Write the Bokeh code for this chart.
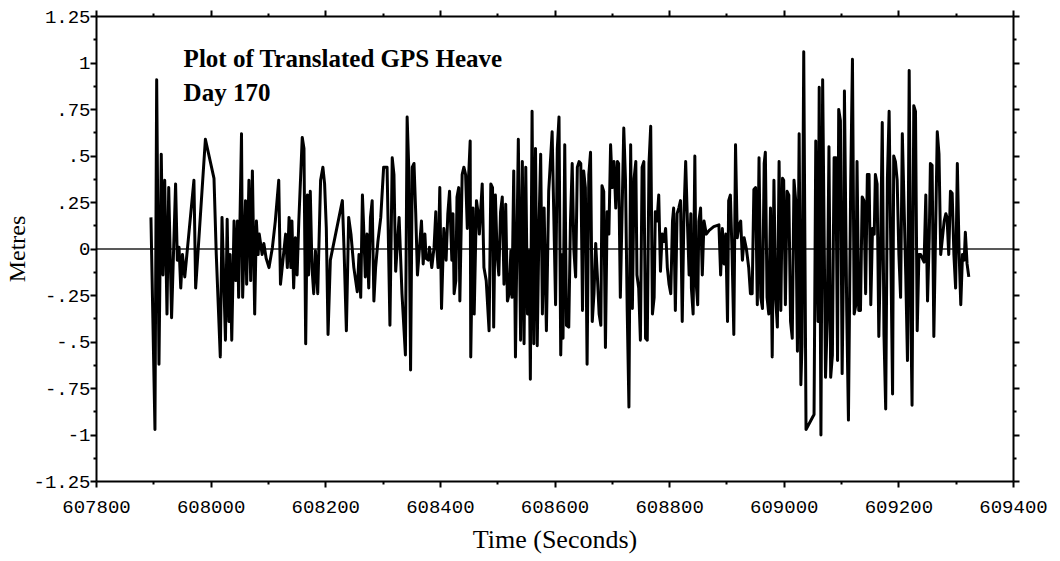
from bokeh.plotting import figure
from bokeh.models import (Range1d, LinearAxis, FixedTicker, Label, BasicTickFormatter,
                          CustomLabelingPolicy)
from bokeh.embed import file_html
from bokeh.resources import INLINE

# ---------------- data ----------------
time_s = [
    607895, 607902, 607905, 607909, 607913, 607916, 607919, 607923, 607926, 607931,
    607938, 607941, 607944, 607947, 607950, 607954, 607970, 607973, 607990, 608005,
    608009, 608016, 608019, 608025, 608028, 608031, 608033, 608036, 608040, 608043,
    608046, 608048, 608053, 608055, 608060, 608062, 608066, 608069, 608072, 608076,
    608079, 608082, 608084, 608089, 608092, 608096, 608101, 608107, 608112, 608118,
    608121, 608130, 608133, 608136, 608139, 608141, 608144, 608147, 608150, 608153,
    608159, 608162, 608165, 608168, 608170, 608173, 608176, 608179, 608182, 608186,
    608191, 608195, 608198, 608201, 608204, 608208, 608229, 608232, 608236, 608240,
    608244, 608249, 608255, 608258, 608261, 608264, 608266, 608269, 608272, 608275,
    608278, 608281, 608284, 608287, 608291, 608296, 608301, 608307, 608312, 608316,
    608319, 608322, 608328, 608333, 608339, 608342, 608345, 608348, 608351, 608354,
    608357, 608360, 608367, 608370, 608373, 608375, 608379, 608381, 608385, 608389,
    608392, 608393, 608396, 608399, 608402, 608406, 608410, 608413, 608416, 608420,
    608422, 608424, 608427, 608429, 608432, 608434, 608438, 608441, 608444, 608447,
    608449, 608452, 608453, 608457, 608459, 608463, 608466, 608468, 608473, 608476,
    608480, 608485, 608488, 608491, 608493, 608496, 608499, 608502, 608505, 608508,
    608511, 608514, 608517, 608520, 608523, 608525, 608528, 608531, 608536, 608540,
    608543, 608546, 608549, 608552, 608555, 608557, 608560, 608563, 608566, 608569,
    608572, 608575, 608578, 608581, 608585, 608589, 608595, 608601, 608604, 608607,
    608610, 608613, 608614, 608617, 608620, 608624, 608627, 608630, 608633, 608636,
    608639, 608642, 608645, 608648, 608650, 608653, 608656, 608659, 608662, 608665,
    608668, 608671, 608674, 608677, 608680, 608682, 608685, 608688, 608691, 608694,
    608697, 608700, 608703, 608706, 608709, 608711, 608714, 608717, 608720, 608723,
    608726, 608729, 608732, 608735, 608738, 608741, 608743, 608746, 608749, 608752,
    608755, 608758, 608761, 608764, 608767, 608770, 608773, 608775, 608778, 608781,
    608784, 608787, 608790, 608793, 608796, 608799, 608802, 608805, 608807, 608810,
    608813, 608816, 608819, 608822, 608825, 608828, 608831, 608834, 608837, 608838,
    608841, 608844, 608846, 608849, 608851, 608854, 608857, 608860, 608864, 608869,
    608877, 608886, 608889, 608892, 608895, 608898, 608901, 608903, 608906, 608909,
    608912, 608915, 608918, 608921, 608924, 608927, 608930, 608934, 608938, 608941,
    608944, 608947, 608950, 608953, 608956, 608959, 608962, 608965, 608967, 608970,
    608973, 608976, 608979, 608982, 608985, 608988, 608991, 608994, 608997, 608999,
    609002, 609005, 609008, 609011, 609014, 609017, 609020, 609023, 609026, 609029,
    609031, 609034, 609038, 609052, 609055, 609057, 609059, 609061, 609064, 609067,
    609072, 609075, 609078, 609081, 609084, 609087, 609090, 609093, 609095, 609098,
    609101, 609104, 609105, 609109, 609112, 609116, 609119, 609122, 609125, 609127,
    609130, 609133, 609136, 609139, 609142, 609145, 609148, 609151, 609154, 609157,
    609159, 609162, 609165, 609168, 609171, 609174, 609177, 609180, 609183, 609186,
    609189, 609191, 609194, 609197, 609200, 609203, 609206, 609209, 609212, 609215,
    609218, 609221, 609223, 609226, 609229, 609232, 609235, 609238, 609244, 609247,
    609250, 609253, 609255, 609258, 609261, 609264, 609267, 609270, 609273, 609276,
    609279, 609282, 609284, 609287, 609290, 609293, 609296, 609299, 609302, 609305,
    609308, 609311, 609314, 609316, 609319, 609322,
]

heave_m = [
    0.17, -0.97, 0.91, -0.62, 0.51, -0.14, 0.37, -0.35, 0.33, -0.37,
    0.35, -0.06, 0.01, -0.21, -0.03, -0.15, 0.37, -0.21, 0.59, 0.38,
    -0.03, -0.58, 0.17, -0.49, 0.16, -0.39, -0.03, -0.49, 0.15, -0.17,
    0.15, -0.26, 0.62, -0.26, 0.26, -0.19, 0.37, -0.17, 0.42, -0.35,
    0.15, -0.03, 0.08, -0.03, 0.03, -0.05, -0.10, 0.01, 0.15, 0.37,
    -0.19, 0.08, -0.10, 0.17, -0.10, 0.15, -0.21, 0.06, -0.14, 0.15,
    0.60, 0.54, -0.51, 0.29, -0.14, 0.31, -0.10, -0.24, -0.01, -0.24,
    0.37, 0.44, 0.35, 0.11, -0.46, -0.06, 0.26, -0.01, -0.44, 0.17,
    0.08, -0.10, -0.23, -0.03, -0.26, 0.29, 0.13, -0.15, 0.08, -0.21,
    0.17, 0.26, -0.28, -0.10, 0.04, 0.17, 0.44, 0.44, -0.41, 0.49,
    0.40, -0.12, 0.17, -0.24, -0.57, 0.71, 0.42, -0.65, 0.44, 0.46,
    0.19, -0.14, 0.15, -0.08, 0.08, -0.05, -0.06, 0.01, -0.10, 0.01,
    0.20, 0.04, -0.10, 0.33, -0.32, 0.11, -0.06, 0.19, 0.31, -0.06,
    0.19, -0.24, -0.17, 0.28, 0.33, -0.28, 0.40, 0.44, 0.40, 0.11,
    0.37, 0.58, -0.58, 0.22, -0.35, 0.26, 0.19, 0.08, 0.35, -0.10,
    -0.17, -0.44, 0.35, 0.33, -0.42, 0.29, -0.03, -0.14, 0.20, 0.28,
    -0.19, 0.24, -0.28, -0.24, -0.01, -0.26, 0.42, -0.58, 0.59, -0.49,
    0.47, -0.51, 0.44, -0.35, -0.01, -0.70, 0.74, -0.51, 0.54, -0.52,
    0.11, 0.51, -0.35, 0.22, -0.44, 0.31, 0.63, -0.30, 0.54, 0.71,
    -0.57, -0.03, -0.48, 0.56, -0.41, -0.42, 0.15, 0.46, -0.01, -0.15,
    0.44, 0.47, 0.46, -0.33, 0.42, 0.33, -0.62, 0.40, 0.52, -0.39,
    -0.24, 0.03, -0.15, -0.35, -0.41, 0.34, 0.31, -0.53, 0.20, 0.08,
    0.56, 0.33, 0.47, 0.22, 0.47, 0.46, -0.26, 0.19, 0.65, 0.37,
    -0.33, -0.85, 0.56, -0.32, 0.38, 0.47, -0.14, -0.21, -0.49, 0.44,
    0.47, -0.48, -0.49, 0.46, 0.66, -0.35, -0.26, 0.20, 0.15, 0.29,
    -0.12, 0.08, 0.04, 0.11, -0.10, -0.19, -0.24, 0.15, 0.22, -0.33,
    0.19, 0.22, 0.26, -0.39, 0.19, 0.47, 0.15, -0.14, 0.19, -0.21,
    -0.35, 0.50, -0.17, -0.30, 0.15, 0.22, -0.14, 0.15, 0.08, 0.10,
    0.12, 0.13, -0.14, 0.11, -0.08, 0.08, -0.39, 0.26, 0.29, -0.03,
    -0.46, 0.56, 0.06, 0.13, 0.15, -0.06, 0.06, 0.00, -0.10, -0.24,
    -0.24, 0.32, 0.33, -0.30, 0.49, -0.26, -0.32, 0.46, 0.52, -0.26,
    -0.35, 0.22, -0.58, 0.37, -0.26, -0.42, 0.47, -0.33, 0.38, 0.37,
    -0.30, 0.31, 0.29, -0.39, -0.48, 0.37, 0.26, -0.55, 0.62, -0.73,
    -0.51, 1.06, -0.97, -0.89, 0.58, -0.03, -0.39, 0.87, -1.00, 0.91,
    -0.69, -0.39, 0.55, -0.69, -0.57, 0.49, 0.49, -0.60, 0.75, 0.69,
    -0.67, 0.08, 0.85, -0.33, -0.92, 0.37, 1.02, -0.35, -0.30, 0.47,
    -0.33, -0.33, 0.28, 0.26, -0.24, 0.40, 0.40, -0.30, 0.11, 0.08,
    0.40, 0.35, -0.47, -0.01, 0.68, -0.46, -0.86, 0.38, 0.74, -0.03,
    -0.78, 0.50, 0.47, 0.37, -0.03, -0.26, 0.62, 0.24, -0.14, -0.60,
    0.96, -0.39, -0.84, 0.77, 0.74, -0.44, -0.03, -0.03, -0.07, 0.29,
    -0.28, 0.06, 0.46, 0.45, -0.47, 0.08, 0.63, 0.51, -0.03, 0.06,
    0.15, 0.19, 0.17, -0.03, 0.31, 0.30, -0.03, -0.21, 0.46, -0.01,
    -0.30, -0.03, -0.06, 0.09, -0.08, -0.15,
]

baseline_t = [607800, 609400]
baseline_m = [0.0, 0.0]

x_ticks = [607800, 608000, 608200, 608400, 608600, 608800, 609000, 609200, 609400]
x_minor = [607900, 608100, 608300, 608500, 608700, 608900, 609100, 609300]
y_ticks = [-1.25, -1.0, -0.75, -0.5, -0.25, 0.0, 0.25, 0.5, 0.75, 1.0, 1.25]
y_tick_labels = ["-1.25", "-1", "-.75", "-.5", "-.25", "0", ".25", ".5", ".75", "1", "1.25"]
y_minor = [-1.125, -0.875, -0.625, -0.375, -0.125, 0.125, 0.375, 0.625, 0.875, 1.125]

title_lines = ["Plot of Translated GPS Heave", "Day 170"]
x_label = "Time (Seconds)"
y_label = "Metres"

n = min(len(time_s), len(heave_m))
time_s = time_s[:n]
heave_m = heave_m[:n]

# ---------------- figure ----------------
p = figure(width=1060, height=561,
           x_range=Range1d(607800, 609400), y_range=Range1d(-1.25, 1.25),
           output_backend="svg", toolbar_location=None,
           x_axis_location=None, y_axis_location=None,
           min_border_left=96, min_border_right=47, min_border_top=16, min_border_bottom=80,
           background_fill_color="white", border_fill_color="white")
p.grid.visible = False
p.outline_line_color = None

TICK_FONT = "Liberation Mono"
SERIF = "Liberation Serif"

no_labels = CustomLabelingPolicy(code="for (const i of indices) { if (false) yield i }")


def style_axis(ax, show_labels):
    ax.axis_line_color = "black"
    ax.axis_line_width = 2
    ax.major_tick_line_color = "black"
    ax.major_tick_line_width = 2
    ax.major_tick_in = 0
    ax.major_tick_out = 6
    ax.minor_tick_line_color = "black"
    ax.minor_tick_line_width = 2
    ax.minor_tick_in = 0
    ax.minor_tick_out = 3
    ax.major_label_text_font = TICK_FONT
    ax.major_label_text_color = "black"
    if show_labels:
        ax.major_label_text_font_size = "19px"
    else:
        ax.major_label_text_font_size = "1px"
        ax.major_label_policy = no_labels
        ax.major_label_standoff = 0


# bottom axis
xb = LinearAxis(ticker=FixedTicker(ticks=x_ticks, minor_ticks=x_minor),
                formatter=BasicTickFormatter(use_scientific=False))
style_axis(xb, True)
xb.major_label_standoff = 13
xb.axis_label = x_label
xb.axis_label_text_font = SERIF
xb.axis_label_text_font_style = "normal"
xb.axis_label_text_font_size = "26px"
xb.axis_label_text_color = "black"
xb.axis_label_standoff = 9
p.add_layout(xb, "below")

# top axis (ticks only)
xt = LinearAxis(ticker=FixedTicker(ticks=x_ticks, minor_ticks=x_minor))
style_axis(xt, False)
p.add_layout(xt, "above")

# left axis
yl = LinearAxis(ticker=FixedTicker(ticks=y_ticks, minor_ticks=y_minor))
style_axis(yl, True)
yl.major_label_standoff = 0
yl.major_label_overrides = {float(v): s for v, s in zip(y_ticks, y_tick_labels)}
yl.axis_label = y_label
yl.axis_label_text_font = SERIF
yl.axis_label_text_font_style = "normal"
yl.axis_label_text_font_size = "24px"
yl.axis_label_text_color = "black"
yl.axis_label_standoff = 0
p.add_layout(yl, "left")

# right axis (ticks only)
yr = LinearAxis(ticker=FixedTicker(ticks=y_ticks, minor_ticks=y_minor))
style_axis(yr, False)
p.add_layout(yr, "right")

# series
p.line(baseline_t, baseline_m, line_color="#222222", line_width=1.3)
p.line(time_s, heave_m, line_color="black", line_width=3, line_join="round")

# title text inside the plot
p.add_layout(Label(x=607952, y=1.022, text=title_lines[0], text_font=SERIF,
                   text_font_style="bold", text_font_size="25px", text_color="black",
                   text_baseline="alphabetic", text_align="left"))
p.add_layout(Label(x=607952, y=0.84, text=title_lines[1], text_font=SERIF,
                   text_font_style="bold", text_font_size="25px", text_color="black",
                   text_baseline="alphabetic", text_align="left"))

open("out.html", "w").write(file_html(p, INLINE))
